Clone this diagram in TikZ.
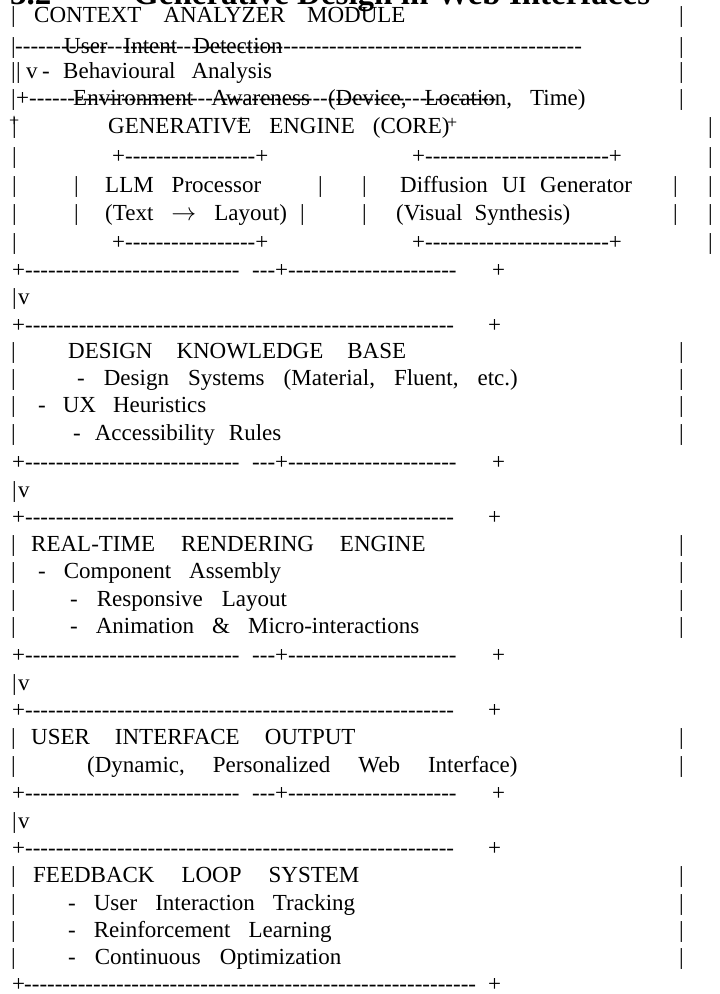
\documentclass[tikz,border=0pt]{standalone}
\usepackage{fontspec}
\setmainfont{Liberation Serif}
\usepackage{amsmath}

\newcommand{\dashrun}[1]{\foreach \k in {1,...,#1}{-\kern0pt}}
% baselines of the 36 text rows
\def\rowy{{22,53,78,105,133,163,192,220,249,277,304,332,358,385,412,440,469,497,524,551,578,606,633,662,690,717,744,772,800,828,855,882,910,937,964,991}}

\begin{document}
\begin{tikzpicture}[x=1pt, y=-1pt,
	ascii/.style={anchor=base west, inner sep=0pt, font=\fontsize{23}{28}\selectfont},
	smallplus/.style={anchor=base west, inner sep=0pt, font=\fontsize{18}{20}\selectfont},
	heading/.style={anchor=base west, inner sep=0pt, font=\bfseries\fontsize{33}{36}\selectfont}]
	\useasboundingbox (0,0) rectangle (720,994);
	% heading, cut off by the top edge
	\node[heading] (secnum) at (10,4) {3.2};
	\node[heading] (sectitle) at (133,4) {Generative Design in Web Interfaces};
	% outer bars of the text boxes
	\foreach \r in {0,1,2,3,12,13,14,15,19,20,21,22,26,27,31,32,33,34} {
		\node[ascii] (bl\r) at (11,{\rowy[\r]}) {|};
		\node[ascii] (br\r) at (679,{\rowy[\r]}) {|};
	}
	\foreach \r in {4,...,8} {
		\node[ascii] (bl\r) at (12,{\rowy[\r]}) {|};
		\node[ascii] (br\r) at (708,{\rowy[\r]}) {|};
	}
	\node[ascii] (bl2b) at (16,{\rowy[2]}) {|};
	% text lines: x / row / word gap / text
	\foreach \x/\r/\g/\t in {34/0/22/{CONTEXT ANALYZER MODULE},
		64/1/16/{User Intent Detection},
		63/2/16/{Behavioural Analysis},
		73/3/18/{Environment Awareness (Device, Location, Time)},
		108/4/18/{GENERATIVE ENGINE (CORE)},
		68/12/24/{DESIGN KNOWLEDGE BASE},
		77/13/19/{- Design Systems (Material, Fluent, etc.)},
		38/14/17/{- UX Heuristics},
		73/15/14/{- Accessibility Rules},
		31/19/26/{REAL-TIME RENDERING ENGINE},
		38/20/18/{- Component Assembly},
		70/21/19/{- Responsive Layout},
		70/22/18/{- Animation \& Micro-interactions},
		31/26/25/{USER INTERFACE OUTPUT},
		87/27/28/{(Dynamic, Personalized Web Interface)},
		33/31/27/{FEEDBACK LOOP SYSTEM},
		68/32/18/{- User Interaction Tracking},
		68/33/18/{- Reinforcement Learning},
		68/34/19/{- Continuous Optimization}} {
		\node[ascii] (t\r) at (\x,{\rowy[\r]}) {\spaceskip=\g pt\relax\t};
	}
	% struck-through lines of the first box
	\node[ascii] (d1) at (15,{\rowy[1]}) {\dashrun{74}};
	\node[ascii] (v2) at (26,{\rowy[2]}) {v};
	\node[ascii] (m2) at (42,{\rowy[2]}) {-};
	\node[ascii] (p3) at (16,{\rowy[3]}) {+};
	\node[ascii] (d3) at (29,{\rowy[3]}) {\dashrun{61}};
	% stray plus signs in the core line
	\node[smallplus] (p4a) at (9,{\rowy[4]-7}) {+};
	\node[smallplus] (p4b) at (236,{\rowy[4]-6}) {+};
	\node[smallplus] (p4c) at (447,{\rowy[4]-5}) {+};
	% the two inner boxes
	\foreach \r in {5,8} {
		\node[ascii] (llm\r) at (112,{\rowy[\r]}) {+\dashrun{17}+};
		\node[ascii] (dif\r) at (412,{\rowy[\r]}) {+\dashrun{24}+};
	}
	\node[ascii] (llm6) at (105,{\rowy[6]}) {\spaceskip=18pt\relax LLM Processor};
	\node[ascii] (dif6) at (400,{\rowy[6]}) {\spaceskip=14pt\relax Diffusion UI Generator};
	\node[ascii] (llm7) at (105,{\rowy[7]}) {\spaceskip=18pt\relax (Text $\rightarrow$ Layout)};
	\node[ascii] (dif7) at (396,{\rowy[7]}) {\spaceskip=12pt\relax (Visual Synthesis)};
	\foreach \xa/\xb/\r in {318/362/6, 300/362/7} {
		\node[ascii] (ia\r) at (74,{\rowy[\r]}) {|};
		\node[ascii] (ib\r) at (\xa,{\rowy[\r]}) {|};
		\node[ascii] (ic\r) at (\xb,{\rowy[\r]}) {|};
		\node[ascii] (id\r) at (673,{\rowy[\r]}) {|};
	}
	% separators with the down arrows
	\foreach \r in {9,16,23,28} {
		\node[ascii] (sa\r) at (12,{\rowy[\r]}) {+\dashrun{28}};
		\node[ascii] (sb\r) at (252,{\rowy[\r]}) {\dashrun{3}+\dashrun{22}};
		\node[ascii] (sc\r) at (492,{\rowy[\r]}) {+};
	}
	\foreach \r in {10,17,24,29} {
		\node[ascii] (vb\r) at (12,{\rowy[\r]}) {|};
		\node[ascii] (vv\r) at (18,{\rowy[\r]}) {v};
	}
	\foreach \r in {11,18,25,30} {
		\node[ascii] (ta\r) at (12,{\rowy[\r]}) {+\dashrun{56}};
		\node[ascii] (tb\r) at (488,{\rowy[\r]}) {+};
	}
	% bottom edge
	\node[ascii] (ea) at (12,{\rowy[35]}) {+};
	\node[ascii] (eb) at (24,{\rowy[35]}) {\dashrun{59}};
	\node[ascii] (ec) at (488,{\rowy[35]}) {+};
\end{tikzpicture}
\end{document}
